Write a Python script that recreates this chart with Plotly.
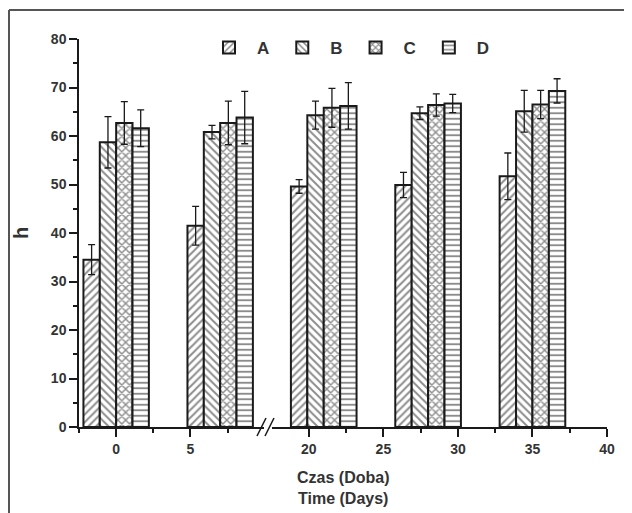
import plotly.graph_objects as go

# ---- data ----
days_left = [0, 7]
days_right = [21, 28, 35]
series_names = ["A", "B", "C", "D"]
A_vals = [34.5, 41.5, 49.6, 49.9, 51.7]
B_vals = [58.7, 60.8, 64.3, 64.7, 65.1]
C_vals = [62.7, 62.7, 65.8, 66.4, 66.5]
D_vals = [61.6, 63.8, 66.2, 66.7, 69.3]
A_err = [3.1, 4.0, 1.4, 2.6, 4.8]
B_err = [5.3, 1.4, 2.9, 1.3, 4.3]
C_err = [4.4, 4.5, 4.0, 2.3, 2.9]
D_err = [3.8, 5.4, 4.8, 1.9, 2.5]
y_ticks = [0, 10, 20, 30, 40, 50, 60, 70, 80]
x_ticks_left = [0, 5]
x_ticks_right = [20, 25, 30, 35, 40]

values = [A_vals, B_vals, C_vals, D_vals]
errors = [A_err, B_err, C_err, D_err]
shapes_pat = ["/", "\\", "x", "-"]
pat_solidity = [0.35, 0.35, 0.45, 0.35]

# page body has an 8px margin, so the figure is drawn 8px smaller
OFF = 8
W, H = 632 - OFF, 513 - OFF
ML, MR, MT, MB = 71, 25, 31, 86
PW, PH = W - ML - MR, H - MT - MB

def px(xp):  # reference window pixel -> paper
    return (xp - OFF - ML) / PW

def py(yp):
    return (H - MB - (yp - OFF)) / PH

INK = "#1a1a1a"
FONT = "Liberation Sans, Arial, sans-serif"

fig = go.Figure()
nl = len(days_left)
for i, name in enumerate(series_names):
    for axis, xs, sl, show in (("x", days_left, slice(0, nl), True),
                               ("x2", days_right, slice(nl, None), False)):
        fig.add_trace(go.Bar(
            x=xs, y=values[i][sl], name=name, legendgroup=name,
            showlegend=show, xaxis=axis, yaxis="y",
            marker=dict(color="white",
                        line=dict(color=INK, width=2),
                        pattern=dict(shape=shapes_pat[i], fgcolor=INK,
                                     bgcolor="white", size=5.5,
                                     solidity=pat_solidity[i])),
            error_y=dict(type="data", array=errors[i][sl], color=INK,
                         thickness=1.3, width=3.5),
        ))

axis_common = dict(showline=True, linecolor=INK, linewidth=1.5,
                   ticks="outside", ticklen=8, tickwidth=1.5, tickcolor=INK,
                   showgrid=False, zeroline=False,
                   tickfont=dict(family=FONT, size=14, color="#333",
                                 weight="bold"))

fig.update_layout(
    width=W, height=H,
    margin=dict(l=ML, r=MR, t=MT, b=MB, pad=0),
    paper_bgcolor="white", plot_bgcolor="white",
    barmode="group", bargap=0.371, bargroupgap=0,
    font=dict(family=FONT, color="#333"),
    xaxis=dict(domain=[0, 0.3504], range=[-2.5, 9.95], anchor="y",
               tickmode="array", tickvals=x_ticks_left,
               minor=dict(tickmode="array", tickvals=[-2.5, 2.5, 7.5],
                          ticks="outside", ticklen=4, tickwidth=1.5,
                          tickcolor=INK),
               **axis_common),
    xaxis2=dict(domain=[0.3661, 1], range=[17.55, 40], anchor="y",
                tickmode="array", tickvals=x_ticks_right,
                minor=dict(tickmode="array", tickvals=[22.5, 27.5, 32.5, 37.5],
                           ticks="outside", ticklen=4, tickwidth=1.5,
                           tickcolor=INK),
                **axis_common),
    yaxis=dict(range=[0, 80], tickmode="array", tickvals=y_ticks,
               minor=dict(dtick=5, tick0=0, ticks="outside", ticklen=4,
                          tickwidth=1.5, tickcolor=INK),
               title=dict(text="h", standoff=17,
                          font=dict(family=FONT, size=20, color="#333",
                                    weight="bold")),
               **axis_common),
    legend=dict(orientation="h", x=px(348), xanchor="center",
                y=py(48), yanchor="middle",
                font=dict(family=FONT, size=17, color="#333", weight="bold"),
                bgcolor="rgba(0,0,0,0)", itemwidth=46, traceorder="normal"),
    annotations=[dict(text="Czas (Doba)<br>Time (Days)", xref="paper",
                      yref="paper", x=0.5, y=py(488), xanchor="center",
                      yanchor="middle", showarrow=False,
                      font=dict(family=FONT, size=16, color="#333",
                                weight="bold"))],
    shapes=[
        # axis break marks
        dict(type="line", xref="paper", yref="paper",
             x0=px(257), y0=py(436), x1=px(266), y1=py(418),
             line=dict(color=INK, width=1.5)),
        dict(type="line", xref="paper", yref="paper",
             x0=px(265), y0=py(436), x1=px(274), y1=py(418),
             line=dict(color=INK, width=1.5)),
        # outer frame (top and left edges)
        dict(type="line", xref="paper", yref="paper",
             x0=px(9), y0=py(10), x1=px(640), y1=py(10),
             line=dict(color="#555", width=2)),
        dict(type="line", xref="paper", yref="paper",
             x0=px(9), y0=py(10), x1=px(9), y1=py(520),
             line=dict(color="#555", width=2)),
    ],
)

fig.write_html("out.html")
